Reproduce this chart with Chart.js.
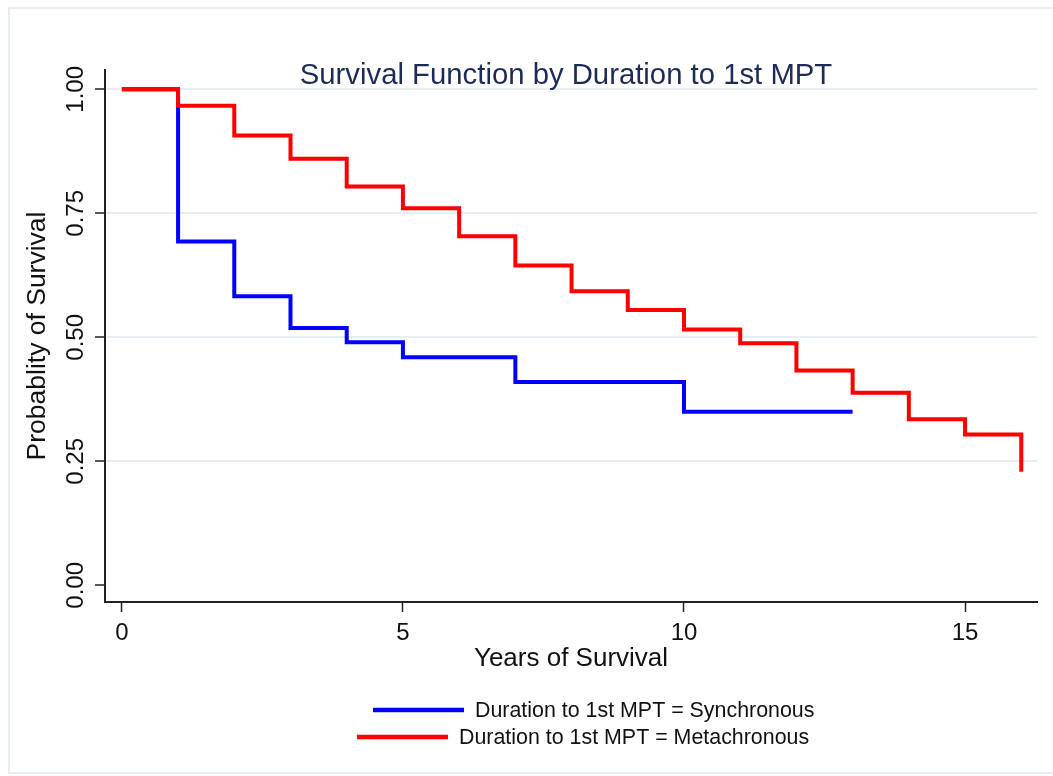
<!DOCTYPE html>
<html>
<head>
<meta charset="utf-8">
<script src="https://cdn.jsdelivr.net/npm/chart.js@4"></script>
<style>
  html, body { margin: 0; padding: 0; background: #fff; }
  #wrap { width: 1053px; height: 776px; }
</style>
</head>
<body>
<div id="wrap"><canvas id="km" width="1053" height="776"></canvas></div>
<script>
// Data
const syncYears = [0, 1, 2, 3, 4, 5, 7, 10, 13];
const syncSurv = [1.00, 0.693, 0.583, 0.519, 0.490, 0.460, 0.410, 0.350, 0.350];
const metaYears = [0, 1, 2, 3, 4, 5, 6, 7, 8, 9, 10, 11, 12, 13, 14, 15, 16];
const metaSurv = [1.00, 0.967, 0.907, 0.860, 0.804, 0.760, 0.704, 0.645, 0.593, 0.555, 0.516, 0.488, 0.433, 0.388, 0.335, 0.304, 0.229];
const xTicks = [0, 5, 10, 15];
const yTicks = [0, 0.25, 0.5, 0.75, 1];
const seriesLabels = ['Duration to 1st MPT = Synchronous', 'Duration to 1st MPT = Metachronous'];
const chartTitle = 'Survival Function by Duration to 1st MPT';

const FONT = "'Liberation Sans', Arial, sans-serif";

const toPoints = (xs, ys) => xs.map((x, i) => ({ x: x, y: ys[i] }));

// light frame around the whole graph
const framePlugin = {
    id: 'frame',
    beforeDraw(chart) {
        const ctx = chart.ctx;
        ctx.save();
        ctx.fillStyle = '#fff';
        ctx.fillRect(0, 0, chart.width, chart.height);
        ctx.strokeStyle = '#e6eef1';
        ctx.lineWidth = 2;
        ctx.strokeRect(9, 8, chart.width + 10, 765);
        ctx.restore();
    }
};

// title sits inside the plot region, like Stata draws it
const titlePlugin = {
    id: 'insideTitle',
    afterDraw(chart) {
        const ctx = chart.ctx;
        const a = chart.chartArea;
        ctx.save();
        ctx.font = '29.3px ' + FONT;
        ctx.fillStyle = '#1c2b58';
        ctx.textAlign = 'center';
        ctx.textBaseline = 'alphabetic';
        ctx.fillText(chartTitle, (a.left + a.right) / 2 - 5, a.top + 14);
        ctx.restore();
    }
};

// vertical (rotated) y tick labels
const yLabelPlugin = {
    id: 'yLabels',
    afterDraw(chart) {
        const ctx = chart.ctx;
        const y = chart.scales.y;
        ctx.save();
        ctx.font = '24px ' + FONT;
        ctx.fillStyle = '#111';
        ctx.textAlign = 'center';
        ctx.textBaseline = 'middle';
        y.ticks.forEach(t => {
            const py = y.getPixelForValue(t.value);
            ctx.save();
            ctx.translate(75, py);
            ctx.rotate(-Math.PI / 2);
            ctx.fillText(t.value.toFixed(2), 0, 1);
            ctx.restore();
        });
        ctx.restore();
    }
};

// one legend key per row, under the x axis title
const legendPlugin = {
    id: 'rowLegend',
    afterDraw(chart) {
        const ctx = chart.ctx;
        const rows = [{ x: 373, y: 710 }, { x: 357, y: 737 }];
        ctx.save();
        ctx.font = '21.4px ' + FONT;
        ctx.textBaseline = 'middle';
        ctx.textAlign = 'left';
        chart.data.datasets.forEach((ds, i) => {
            const r = rows[i];
            ctx.strokeStyle = ds.borderColor;
            ctx.lineWidth = 4.5;
            ctx.beginPath();
            ctx.moveTo(r.x, r.y);
            ctx.lineTo(r.x + 91, r.y);
            ctx.stroke();
            ctx.fillStyle = '#111';
            ctx.fillText(ds.label, r.x + 102, r.y + 1);
        });
        ctx.restore();
    }
};

const ctx = document.getElementById('km').getContext('2d');
const chart = new Chart(ctx, {
    type: 'line',
    data: {
        datasets: [
            {
                label: seriesLabels[0],
                data: toPoints(syncYears, syncSurv),
                borderColor: '#0000ff',
                borderWidth: 4,
                stepped: 'before',
                pointRadius: 0,
                fill: false,
                order: 2
            },
            {
                label: seriesLabels[1],
                data: toPoints(metaYears, metaSurv),
                borderColor: '#ff0000',
                borderWidth: 4,
                stepped: 'before',
                pointRadius: 0,
                fill: false,
                order: 1
            }
        ]
    },
    options: {
        responsive: false,
        animation: false,
        layout: { padding: { left: 0, right: 16, top: 70, bottom: 102 } },
        plugins: {
            legend: { display: false },
            tooltip: { enabled: false },
            title: { display: false }
        },
        scales: {
            x: {
                type: 'linear',
                min: -0.3,
                max: 16.28,
                afterBuildTicks: s => { s.ticks = xTicks.map(v => ({ value: v })); },
                afterFit: s => { s.height = 72; },
                grid: { display: true, drawOnChartArea: false, drawTicks: true, tickLength: 10, tickColor: '#222', tickWidth: 1.5 },
                border: { color: '#222', width: 2 },
                ticks: { font: { family: FONT, size: 24 }, color: '#111', padding: 7, maxRotation: 0 },
                title: { display: true, text: 'Years of Survival', font: { family: FONT, size: 26 }, color: '#111', padding: { top: 0, bottom: 0 } }
            },
            y: {
                min: -0.0337,
                max: 1.039,
                afterBuildTicks: s => { s.ticks = yTicks.map(v => ({ value: v })); },
                afterFit: s => { s.width = 105; },
                grid: {
                    drawTicks: true,
                    tickLength: 10,
                    tickColor: '#222',
                    tickWidth: 1.5,
                    lineWidth: 2,
                    color: c => (c.tick && c.tick.value === 0) ? 'rgba(0,0,0,0)' : '#e6eef1'
                },
                border: { color: '#222', width: 2 },
                ticks: { display: false },
                title: { display: true, text: 'Probablity of Survival', font: { family: FONT, size: 26.5 }, color: '#111', padding: { top: 22, bottom: 0 } }
            }
        }
    },
    plugins: [framePlugin, titlePlugin, yLabelPlugin, legendPlugin]
});
</script>
</body>
</html>
